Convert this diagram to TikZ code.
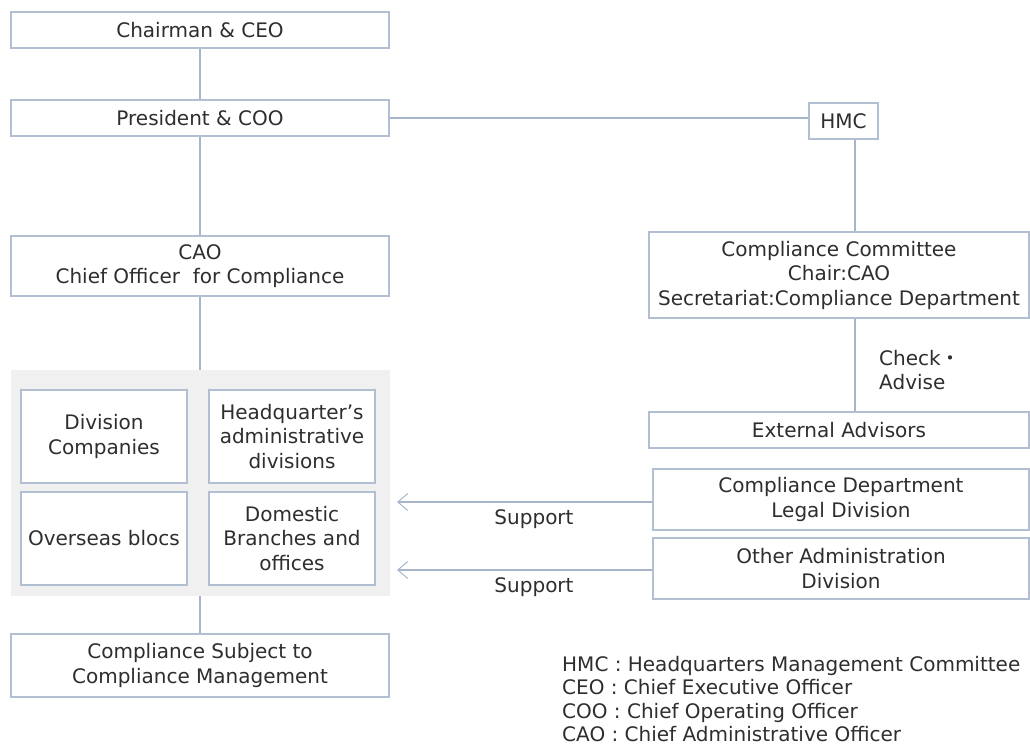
\documentclass[tikz,border=0pt]{standalone}
\usepackage{fontspec}
\setmainfont{DejaVu Sans}
\newfontfamily\cjk{Noto Sans CJK JP}
\usetikzlibrary{arrows.meta}
\definecolor{bc}{HTML}{B2BFD3}
\definecolor{lc}{HTML}{A8B6CC}
\definecolor{tc}{HTML}{2E2E2E}
\definecolor{gf}{HTML}{F0F0F0}
\begin{document}
\begin{tikzpicture}[x=1pt,y=-1pt,
  every node/.style={text=tc,font=\fontsize{20}{24.5}\selectfont},
  box/.style={draw=bc,line width=1.3pt,fill=white,inner sep=0pt,align=center},
  conn/.style={draw=lc,line width=1.3pt},
  arr/.style={conn,-{Straight Barb[length=10pt,width=17pt,line width=1pt]}}]
\useasboundingbox (0,0) rectangle (1030,749);
\node[box,minimum width=378,minimum height=36] (ceo) at (200,30) {Chairman \& CEO};
\node[box,minimum width=378,minimum height=36] (pres) at (200,118) {President \& COO};
\node[box,minimum width=69,minimum height=36] (hmc) at (843.5,121) {HMC};
\node[box,minimum width=378,minimum height=60] (cao) at (200,266) {CAO\\Chief Officer\ \ for Compliance};
\node[box,minimum width=380,minimum height=86] (cc) at (839,275) {Compliance Committee\\Chair:CAO\\Secretariat:Compliance Department};
\node[box,minimum width=380,minimum height=36] (ext) at (839,430) {External Advisors};
\node[box,minimum width=376,minimum height=61] (legal) at (841,499.5) {Compliance Department\\Legal Division};
\node[box,minimum width=376,minimum height=61] (other) at (841,568.5) {Other Administration\\Division};
\node[fill=gf,minimum width=379,minimum height=226,inner sep=0pt] (grp) at (200,483) {};
\node[box,minimum width=166,minimum height=93] (div) at (104,436.5) {Division\\Companies};
\node[box,minimum width=166,minimum height=93] (hq) at (292,436.5) {Headquarter’s\\administrative\\divisions};
\node[box,minimum width=166,minimum height=93] (ov) at (104,538.5) {Overseas blocs};
\node[box,minimum width=166,minimum height=93] (dom) at (292,538.5) {Domestic\\Branches and\\offices};
\node[box,minimum width=378,minimum height=63] (subj) at (200,665.5) {Compliance Subject to\\Compliance Management};
\coordinate (ccx) at (855,0);
\coordinate (tip) at (397,0);
\draw[conn] (ceo) -- (pres);
\draw[conn] (pres.east) -- (pres.east -| hmc.west);
\draw[conn] (hmc.south -| ccx) -- (cc.north -| ccx);
\draw[conn] (cao.south) -- (grp.north);
\draw[conn] (grp.south) -- (subj.north);
\draw[conn] (cc.south -| ccx) -- (ext.north -| ccx);
\draw[conn] (pres) -- (cao);
\draw[arr] ([yshift=-2.5]legal.west) -- ([yshift=-2.5]legal.west -| tip);
\draw[arr] ([yshift=-1.5]other.west) -- ([yshift=-1.5]other.west -| tip);
\node[align=left,anchor=west,inner sep=0pt] (chk) at (879,370) {Check{\cjk ・}\\Advise};
\node[inner sep=0pt] (s1) at (534,519) {Support};
\node[inner sep=0pt] (s2) at (534,587) {Support};
\node[align=left,anchor=north west,inner sep=0pt,font=\fontsize{20}{23.3}\selectfont] (leg) at (562,656) {HMC : Headquarters Management Committee\\CEO : Chief Executive Officer\\COO : Chief Operating Officer\\CAO : Chief Administrative Officer};
\end{tikzpicture}
\end{document}
